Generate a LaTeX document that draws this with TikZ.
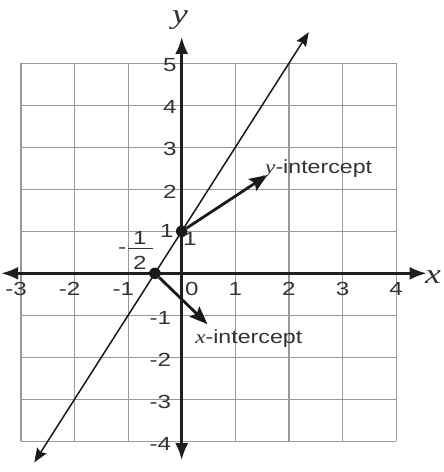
\documentclass[tikz,border=0pt]{standalone}
\usepackage{fontspec}
\setmainfont{Liberation Sans}
\newfontfamily\tms{Liberation Serif}
\usetikzlibrary{arrows.meta}
\newcommand{\sx}[1]{\scalebox{1.27}[1]{#1}}
\newcommand{\sxl}[1]{\scalebox{1.22}[1]{#1}}
\begin{document}
\begin{tikzpicture}[x=53.6pt,y=42pt,
  gridline/.style={draw=gray!80, line width=1.2pt},
  axisline/.style={draw=black!88, line width=2.8pt,
    {Latex[length=17pt,width=13pt]}-{Latex[length=17pt,width=13pt]}},
  graphline/.style={draw=black!90, line width=1.5pt,
    {Stealth[length=14pt,width=11pt,inset=2pt]}-{Stealth[length=14pt,width=11pt,inset=2pt]}},
  callout/.style={draw=black!90, line width=2.8pt, -{Stealth[length=18pt,width=14pt,inset=3pt]}},
  lab/.style={text=black!80, font=\fontsize{19}{21}\selectfont, inner sep=0pt},
  axlab/.style={text=black!80, font=\tms\itshape\fontsize{28}{30}\selectfont, inner sep=0pt},
  dot/.style={circle, fill=black!90, inner sep=0pt, minimum size=11.5pt}]
\useasboundingbox (-3.39,-4.73) rectangle (4.875,6.507);
% grid
\foreach \i in {-3,...,4} \draw[gridline] (\i,-4) -- (\i,5);
\foreach \j in {-4,...,5} \draw[gridline] (-3,\j) -- (4,\j);
% axes
\coordinate (xl) at (-3.37,0);
\coordinate (xr) at (4.57,0);
\coordinate (yb) at (0,-4.45);
\coordinate (yt) at (0,5.63);
\draw[axisline] (xl) -- (xr);
\draw[axisline] (yb) -- (yt);
\node[axlab] (xlab) at (4.69,-0.09) {\sx{x}};
\node[axlab] (ylab) at (-0.03,6.03) {\sx{y}};
% tick labels x
\foreach \k in {1,...,4} \node[lab] (tx\k) at (\k,-0.38) {\sx{\k}};
\foreach \k in {-3,-2,-1} \node[lab] (txm\k) at (\k-0.09,-0.38) {\sx{\k}};
\node[lab] (tx0) at (0.19,-0.38) {\sx{0}};
% tick labels y
\foreach \k in {2,...,5} \node[lab] (ty\k) at (-0.22,\k-0.05) {\sx{\k}};
\node[lab] (ty1) at (-0.28,1.0) {\sx{1}};
\foreach \k in {-1,-2,-3,-4} \node[lab] (tym\k) at (-0.4,\k-0.06) {\sx{\k}};
% graph line
\coordinate (lb) at (-2.75,-4.5);
\coordinate (lt) at (2.37,5.74);
\draw[graphline] (lb) -- (lt);
% intercept points
\node[dot] (yi) at (0,1) {};
\node[dot] (xi) at (-0.5,0) {};
\node[lab] (one) at (0.155,0.81) {\sx{1}};
% fraction -1/2
\node[lab] (fm) at (-1.11,0.55) {\sx{-}};
\node[lab] (fn) at (-0.78,0.84) {\sx{1}};
\node[lab] (fd) at (-0.78,0.26) {\sx{2}};
\coordinate (fb1) at (-1.0,0.59);
\coordinate (fb2) at (-0.535,0.59);
\draw[black!80, line width=1.2pt] (fb1) -- (fb2);
% callouts
\coordinate (ytip) at (1.6,2.34);
\coordinate (xtip) at (0.48,-1.21);
\draw[callout] (yi) -- (ytip);
\draw[callout] (xi) -- (xtip);
\node[lab, anchor=base west] (ylabel) at (1.554,2.38) {\sxl{{\tms\itshape y}-intercept}};
\node[lab, anchor=base west] (xlabel) at (0.25,-1.667) {\sxl{{\tms\itshape x}-intercept}};
\end{tikzpicture}
\end{document}
